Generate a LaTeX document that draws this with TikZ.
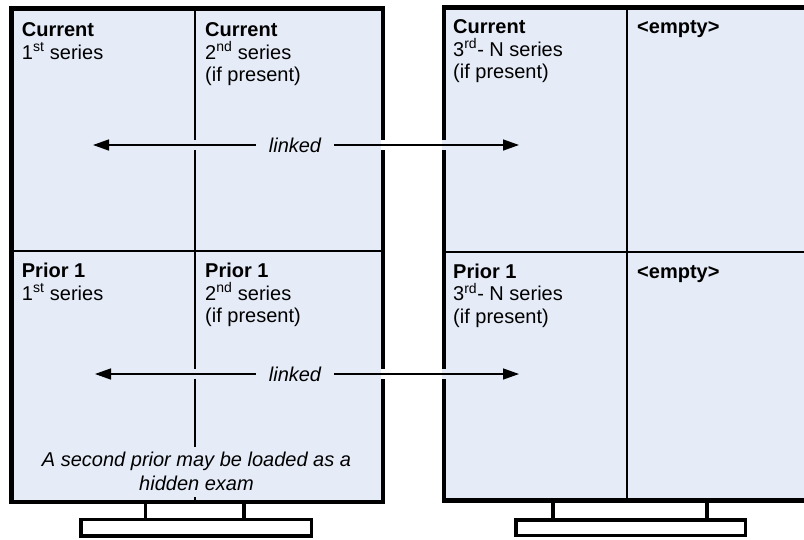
\documentclass[tikz,border=0pt]{standalone}
\usepackage{fontspec}
\setmainfont{Liberation Sans}
\usetikzlibrary{arrows.meta}
\definecolor{panel}{RGB}{229,235,247}
\begin{document}
\begin{tikzpicture}[x=1pt,y=-1pt,
  frame/.style={line width=4.5pt, line join=miter},
  divider/.style={line width=2.2pt},
  standline/.style={line width=3.5pt, fill=white},
  cell/.style={anchor=north west, inner sep=0pt, align=left, font=\fontsize{20}{22.5}\selectfont},
  linklabel/.style={font=\fontsize{20}{24}\selectfont\itshape, inner xsep=13pt, inner ysep=0pt},
  gapcut/.style={line width=10pt},
  arr/.style={line width=1.4pt, -{Triangle[length=16pt,width=11pt]}},
]
\useasboundingbox (0,0) rectangle (804,539);
\begin{scope}
\clip (0,0) rectangle (804,539);
% ---------- left monitor ----------
\draw[standline] (145.7,500) rectangle (244,519.5);
\draw[standline] (81,519.5) rectangle (311.7,536);
\fill[panel] (11.7,8.3) rectangle (383,502);
\draw[divider] (195.3,8.3) -- (195.3,502);
\draw[divider] (11.7,251.3) -- (383,251.3);
\draw[frame] (11.7,8.3) rectangle (383,502);
% ---------- right monitor ----------
\draw[standline] (553,499) rectangle (707,520);
\draw[standline] (516,520) rectangle (745.5,535.5);
\fill[panel] (444,7.5) rectangle (815,500.5);
\draw[divider] (627.3,7.5) -- (627.3,500.5);
\draw[divider] (444,252) -- (815,252);
\draw[frame] (444,7.5) rectangle (815,500.5);
\end{scope}
% ---------- line gaps where the links cross ----------
\foreach \yy in {145,374}{
  \draw[gapcut, panel] (193.5,\yy) -- (197.1,\yy);
  \draw[gapcut, white] (380.5,\yy) -- (385.5,\yy);
  \draw[gapcut, panel] (441.5,\yy) -- (446.5,\yy);
}
% ---------- cell texts ----------
\node[cell] (lt1) at (21.7,21.7) {\rule{0pt}{15pt}\textbf{Current}\\1\textsuperscript{st} series};
\node[cell] (lt2) at (205,21.7) {\rule{0pt}{15pt}\textbf{Current}\\2\textsuperscript{nd} series\\(if present)};
\node[cell] (lb1) at (21.7,262.5) {\rule{0pt}{15pt}\textbf{Prior 1}\\1\textsuperscript{st} series};
\node[cell] (lb2) at (205,262.5) {\rule{0pt}{15pt}\textbf{Prior 1}\\2\textsuperscript{nd} series\\(if present)};
\node[cell] (rt1) at (453,18.7) {\rule{0pt}{15pt}\textbf{Current}\\3\textsuperscript{rd}- N series\\(if present)};
\node[cell] (rt2) at (637,18.7) {\rule{0pt}{15pt}\textbf{<empty>}};
\node[cell] (rb1) at (453,263) {\rule{0pt}{15pt}\textbf{Prior 1}\\3\textsuperscript{rd}- N series\\(if present)};
\node[cell] (rb2) at (637,263) {\rule{0pt}{15pt}\textbf{<empty>}};
% ---------- links ----------
\node[linklabel] (lk1) at (295,145) {linked};
\node[linklabel] (lk2) at (295,374) {linked};
\coordinate (a1l) at (93,145);
\coordinate (a1r) at (519,145);
\coordinate (a2l) at (95,374);
\coordinate (a2r) at (519,374);
\draw[arr] (lk1.west) -- (a1l);
\draw[arr] (lk1.east) -- (a1r);
\draw[arr] (lk2.west) -- (a2l);
\draw[arr] (lk2.east) -- (a2r);
% ---------- note ----------
\node[fill=panel, inner xsep=4pt, inner ysep=5.5pt, align=center,
      font=\fontsize{20}{24}\selectfont\itshape] (note) at (196.5,471.7)
  {A second prior may be loaded as a\\hidden exam};
\end{tikzpicture}
\end{document}
